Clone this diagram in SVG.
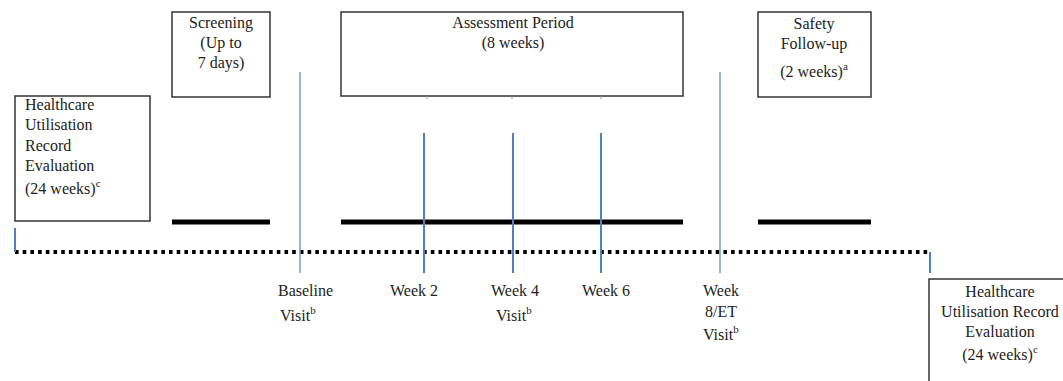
<svg xmlns="http://www.w3.org/2000/svg" width="1063" height="381" viewBox="0 0 1063 381">
<style>
.box{fill:#fff;stroke:#333;stroke-width:1.5}
.t{font-family:"Liberation Serif","Times New Roman",serif;font-size:16px;fill:#222}
.c{text-anchor:middle}
.sup{font-size:11px}
.bar{stroke:#000;stroke-width:5}
.vb{stroke:#4f81bd;stroke-width:2}
.vl{stroke:#6f9cc8;stroke-width:1.5}
.tick{stroke:#999;stroke-width:1}
</style>
<rect width="1063" height="381" fill="#fff"/>
<g id="connectors">
<line x1="15" y1="252" x2="928" y2="252" stroke="#000" stroke-width="4" stroke-dasharray="3.6 4.1"/>
<line class="bar" x1="172" y1="222" x2="270" y2="222"/>
<line class="bar" x1="341" y1="222" x2="683" y2="222"/>
<line class="bar" x1="758" y1="222" x2="871" y2="222"/>
<line class="vb" x1="15" y1="228" x2="15" y2="252"/>
<line class="vl" x1="300" y1="72" x2="300" y2="273"/>
<line class="vb" x1="424" y1="133" x2="424" y2="273"/>
<line class="vb" x1="513" y1="133" x2="513" y2="273"/>
<line class="vb" x1="601" y1="133" x2="601" y2="273"/>
<line class="vl" x1="720" y1="72" x2="720" y2="273"/>
<line class="vb" x1="930" y1="252" x2="930" y2="273"/>
</g>
<g id="hure-left">
<rect class="box" x="15" y="96" width="135" height="125"/>
<text class="t" x="25" y="110">Healthcare</text>
<text class="t" x="25" y="130">Utilisation</text>
<text class="t" x="25" y="151">Record</text>
<text class="t" x="25" y="171">Evaluation</text>
<text class="t" x="25" y="194">(24 weeks)<tspan class="sup" dy="-7">c</tspan></text>
</g>
<g id="screening">
<rect class="box" x="172" y="12" width="98" height="85"/>
<text class="t c" x="221" y="28">Screening</text>
<text class="t c" x="221" y="48">(Up to</text>
<text class="t c" x="221" y="68">7 days)</text>
</g>
<g id="assessment">
<rect class="box" x="341" y="12" width="342" height="84"/>
<text class="t c" x="513" y="28">Assessment Period</text>
<text class="t c" x="513" y="48">(8 weeks)</text>
<line class="tick" x1="427" y1="96" x2="427" y2="99"/>
<line class="tick" x1="512" y1="96" x2="512" y2="99"/>
<line class="tick" x1="601" y1="96" x2="601" y2="99"/>
</g>
<g id="safety">
<rect class="box" x="758" y="12" width="113" height="85"/>
<text class="t c" x="814" y="29">Safety</text>
<text class="t c" x="814" y="49">Follow-up</text>
<text class="t c" x="814" y="77">(2 weeks)<tspan class="sup" dy="-7">a</tspan></text>
</g>
<g id="baseline">
<text class="t" x="278" y="296">Baseline</text>
<text class="t" x="280" y="321">Visit<tspan class="sup" dy="-7">b</tspan></text>
</g>
<g id="week2">
<text class="t" x="390" y="296">Week 2</text>
</g>
<g id="week4">
<text class="t" x="491" y="296">Week 4</text>
<text class="t" x="496" y="321">Visit<tspan class="sup" dy="-7">b</tspan></text>
</g>
<g id="week6">
<text class="t" x="582" y="296">Week 6</text>
</g>
<g id="week8">
<text class="t c" x="721" y="296">Week</text>
<text class="t c" x="721" y="317">8/ET</text>
<text class="t" x="703" y="340">Visit<tspan class="sup" dy="-7">b</tspan></text>
</g>
<g id="hure-right">
<rect class="box" x="929" y="279" width="140" height="110"/>
<text class="t c" x="1000" y="297">Healthcare</text>
<text class="t c" x="1000" y="317">Utilisation Record</text>
<text class="t c" x="1000" y="337">Evaluation</text>
<text class="t c" x="1000" y="360">(24 weeks)<tspan class="sup" dy="-7">c</tspan></text>
</g>
</svg>
